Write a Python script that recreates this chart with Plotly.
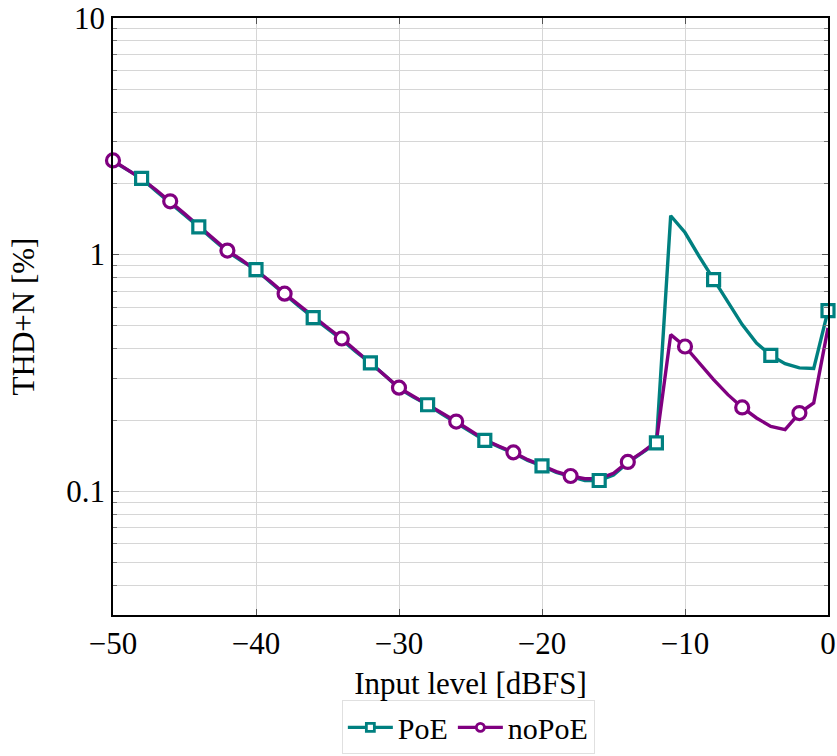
import plotly.graph_objects as go

# Input level [dBFS]
level = [-50, -49, -48, -47, -46, -45, -44, -43, -42, -41, -40, -39, -38, -37, -36, -35,
         -34, -33, -32, -31, -30, -29, -28, -27, -26, -25, -24, -23, -22, -21, -20, -19,
         -18, -17, -16, -15, -14, -13, -12, -11, -10, -9, -8, -7, -6, -5, -4, -3, -2, -1, 0]

# THD+N [%]
poe = [2.48, 2.28, 2.10, 1.86, 1.66, 1.47, 1.31, 1.16, 1.03, 0.94, 0.865, 0.765, 0.678, 0.605, 0.542, 0.487,
       0.437, 0.388, 0.349, 0.309, 0.272, 0.250, 0.232, 0.212, 0.195, 0.179, 0.164, 0.154, 0.145, 0.135, 0.128, 0.120,
       0.115, 0.111, 0.111, 0.117, 0.132, 0.145, 0.160, 1.46, 1.24, 0.98, 0.784, 0.625, 0.506, 0.423, 0.375, 0.346, 0.332, 0.330, 0.580]

nopoe = [2.50, 2.29, 2.09, 1.88, 1.68, 1.49, 1.32, 1.17, 1.04, 0.95, 0.860, 0.772, 0.684, 0.612, 0.545, 0.492,
         0.442, 0.392, 0.351, 0.311, 0.274, 0.252, 0.233, 0.214, 0.197, 0.181, 0.165, 0.155, 0.146, 0.136, 0.128, 0.121,
         0.116, 0.113, 0.113, 0.119, 0.133, 0.146, 0.162, 0.459, 0.409, 0.348, 0.296, 0.256, 0.226, 0.204, 0.188, 0.182, 0.214, 0.236, 0.490]

series_names = ["PoE", "noPoE"]
x_ticks = [-50, -40, -30, -20, -10, 0]
y_ticks = [0.1, 1, 10]
y_tick_text = ["0.1", "1", "10"]

TEAL = "rgb(0,128,128)"
PURPLE = "rgb(128,0,128)"
FONT = "Liberation Serif"
FS = 31

# marker positions: PoE every 4th starting at -48, noPoE every 4th starting at -50
poe_idx = list(range(2, len(level), 4))
nopoe_idx = list(range(0, len(level), 4))

fig = go.Figure()

fig.add_trace(go.Scatter(x=level, y=poe, mode="lines", line=dict(color=TEAL, width=3.4),
                         showlegend=False, hoverinfo="skip", cliponaxis=False))
fig.add_trace(go.Scatter(x=level, y=nopoe, mode="lines", line=dict(color=PURPLE, width=3.4),
                         showlegend=False, hoverinfo="skip", cliponaxis=False))
fig.add_trace(go.Scatter(x=[level[i] for i in poe_idx], y=[poe[i] for i in poe_idx], mode="markers",
                         marker=dict(symbol="square", size=12, color="white",
                                     line=dict(color=TEAL, width=3.2)),
                         showlegend=False, cliponaxis=False))
fig.add_trace(go.Scatter(x=[level[i] for i in nopoe_idx], y=[nopoe[i] for i in nopoe_idx], mode="markers",
                         marker=dict(symbol="circle", size=13, color="white",
                                     line=dict(color=PURPLE, width=3.2)),
                         showlegend=False, cliponaxis=False))

# legend entries
fig.add_trace(go.Scatter(x=[None], y=[None], mode="lines+markers", name=series_names[0],
                         line=dict(color=TEAL, width=3.4),
                         marker=dict(symbol="square", size=8, color="white", line=dict(color=TEAL, width=2.8))))
fig.add_trace(go.Scatter(x=[None], y=[None], mode="lines+markers", name=series_names[1],
                         line=dict(color=PURPLE, width=3.4),
                         marker=dict(symbol="circle", size=8, color="white", line=dict(color=PURPLE, width=2.8))))

GRID = "#d6d6d6"
minor_vals = [0.03, 0.04, 0.05, 0.06, 0.07, 0.08, 0.09,
              0.2, 0.3, 0.4, 0.5, 0.6, 0.7, 0.8, 0.9,
              2, 3, 4, 5, 6, 7, 8, 9]

fig.update_layout(
    width=837, height=756,
    margin=dict(l=113, r=9, t=18, b=141, autoexpand=False),
    paper_bgcolor="white", plot_bgcolor="white",
    font=dict(family=FONT, size=FS, color="black"),
    legend=dict(orientation="h", x=0.497, xanchor="center", y=-0.2335, yanchor="bottom",
                bordercolor="#e0e0e0", borderwidth=1, font=dict(size=30, family=FONT),
                itemwidth=45, tracegroupgap=0, bgcolor="white"),
    xaxis=dict(range=[-50, 0], tickvals=x_ticks, showgrid=True, gridcolor=GRID, gridwidth=1.4,
               showline=True, linecolor="black", linewidth=1.6, mirror="ticks",
               ticks="inside", ticklen=6, tickcolor="#555555", tickwidth=1,
               zeroline=False, tickfont=dict(size=FS, family=FONT), automargin=False,
               title=dict(text="Input level [dBFS]", font=dict(size=FS, family=FONT), standoff=12)),
    yaxis=dict(type="log", range=[-1.523, 1], tickvals=y_ticks, ticktext=y_tick_text,
               showgrid=True, gridcolor=GRID, gridwidth=1.4,
               showline=True, linecolor="black", linewidth=1.6, mirror="ticks",
               ticks="inside", ticklen=6, tickcolor="#555555", tickwidth=1,
               zeroline=False, tickfont=dict(size=FS, family=FONT), automargin=False,
               minor=dict(tickvals=minor_vals, showgrid=True, gridcolor=GRID, gridwidth=1.4,
                          ticks="inside", ticklen=4, tickcolor="#777777"),
               title=dict(text="THD+N [%]", font=dict(size=FS, family=FONT), standoff=22)),
)

fig.write_html("out.html", config={"displayModeBar": False},
               post_script="document.body.style.margin='0';document.body.style.overflow='hidden';")
